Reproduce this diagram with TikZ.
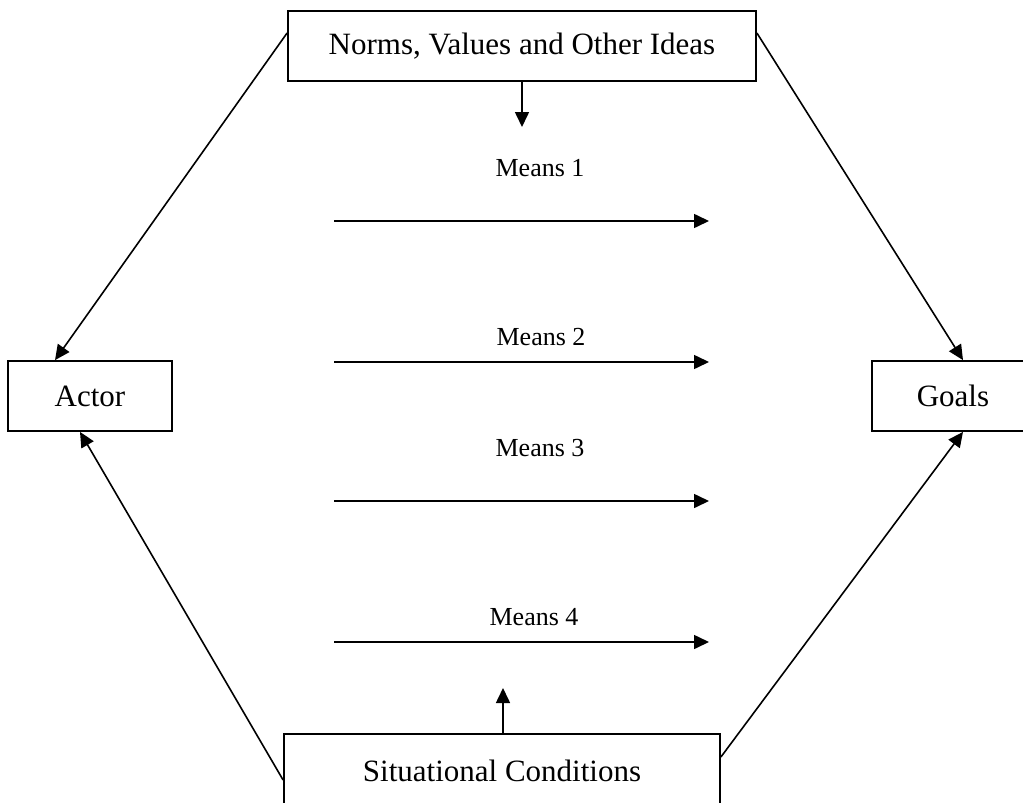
\documentclass[tikz,border=0pt]{standalone}
\usepackage{fontspec}
\setmainfont{Liberation Serif}
\usetikzlibrary{arrows.meta}
\tikzset{
  box/.style={draw, line width=1.8pt, rectangle, inner sep=0pt, minimum height=70pt, font=\fontsize{31}{36}\selectfont},
  meanslabel/.style={inner sep=0pt, font=\fontsize{26}{30}\selectfont},
  conn/.style={line width=1.6pt, -{Triangle[length=15pt,width=14pt]}},
}
\begin{document}
\begin{tikzpicture}[x=1pt,y=-1pt]
\useasboundingbox (0,0) rectangle (1023,803);
\node[box, minimum width=468pt] (norms) at (522,46) {Norms, Values and Other Ideas};
\node[box, minimum width=164pt] (actor) at (90,396) {Actor};
\node[box, minimum width=162pt] (goals) at (953,396) {Goals};
\node[box, minimum width=436pt, minimum height=74pt] (sit) at (502,771) {Situational Conditions};

\coordinate (ntip) at (522,127);
\coordinate (stip) at (503,688);
\draw[conn] (norms.south) -- (ntip);
\draw[conn] (sit.north) ++(1,0) -- (stip);

\draw[conn] ([yshift=13pt]norms.west) -- ([xshift=-35pt]actor.north);
\draw[conn] ([yshift=13pt]norms.east) -- ([xshift=10pt]goals.north);
\draw[conn] ([yshift=-9pt]sit.west) -- ([xshift=-10pt]actor.south);
\draw[conn] ([yshift=14pt]sit.east) -- ([xshift=10pt]goals.south);

\foreach \i/\ly/\ay/\lx in {1/168/221/540, 2/337/362/541, 3/448/501/540, 4/617/642/534}{
  \node[meanslabel] (m\i) at (\lx,\ly) {Means \i};
  \coordinate (m\i s) at (334,\ay);
  \coordinate (m\i e) at (709,\ay);
  \draw[conn] (m\i s) -- (m\i e);
}
\end{tikzpicture}
\end{document}
